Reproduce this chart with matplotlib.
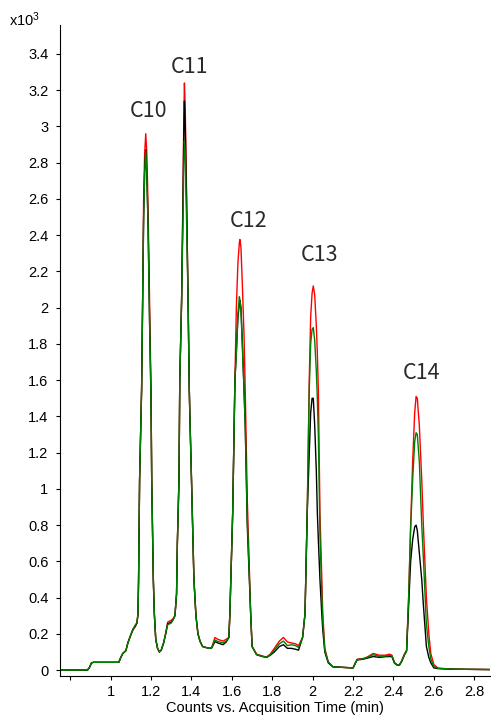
import matplotlib
matplotlib.use("Agg")
import matplotlib.pyplot as plt

plt.rcParams['font.family'] = ['Liberation Sans', 'DejaVu Sans']
plt.rcParams['mathtext.default'] = 'regular'

# Acquisition time (min)
time = [0.746, 0.885, 0.895, 0.905, 0.915, 1.040, 1.050, 1.060, 1.075, 1.085,
        1.096, 1.110, 1.122, 1.130, 1.135, 1.138, 1.143, 1.153, 1.158, 1.163,
        1.168, 1.1735, 1.179, 1.185, 1.192, 1.1995, 1.203, 1.211, 1.216, 1.223,
        1.232, 1.241, 1.250, 1.262, 1.272, 1.282, 1.300, 1.310, 1.318, 1.326,
        1.330, 1.338, 1.342, 1.351, 1.358, 1.362, 1.365, 1.369, 1.376, 1.383,
        1.389, 1.392, 1.400, 1.412, 1.422, 1.432, 1.442, 1.455, 1.470, 1.490,
        1.500, 1.516, 1.530, 1.556, 1.572, 1.585, 1.590, 1.604, 1.615, 1.622,
        1.630, 1.637, 1.640, 1.645, 1.652, 1.660, 1.666, 1.676, 1.693, 1.700,
        1.722, 1.750, 1.772, 1.790, 1.810, 1.835, 1.855, 1.875, 1.895, 1.915,
        1.930, 1.950, 1.962, 1.973, 1.983, 1.990, 1.997, 2.003, 2.010, 2.018,
        2.023, 2.028, 2.036, 2.045, 2.050, 2.060, 2.077, 2.100, 2.200, 2.212,
        2.220, 2.250, 2.270, 2.300, 2.330, 2.360, 2.380, 2.392, 2.405, 2.420,
        2.430, 2.440, 2.455, 2.465, 2.475, 2.485, 2.495, 2.505, 2.512, 2.518,
        2.528, 2.540, 2.548, 2.563, 2.575, 2.585, 2.600, 2.622, 2.700, 2.878]

# Counts (x10^3)
red = [0, 0, 0.015, 0.040, 0.043, 0.043, 0.070, 0.092, 0.107, 0.150,
       0.184, 0.220, 0.240, 0.260, 0.310, 0.500, 1.050, 1.550, 2.040, 2.600,
       2.850, 2.960, 2.850, 2.550, 2.050, 1.550, 1.050, 0.500, 0.310, 0.170,
       0.120, 0.100, 0.110, 0.150, 0.200, 0.265, 0.275, 0.285, 0.300, 0.420,
       0.700, 1.050, 1.600, 2.040, 2.650, 3.050, 3.240, 3.100, 2.600, 2.050,
       1.550, 1.400, 1.050, 0.500, 0.300, 0.200, 0.160, 0.130, 0.125, 0.120,
       0.125, 0.180, 0.170, 0.160, 0.170, 0.180, 0.310, 0.870, 1.600, 2.000,
       2.250, 2.360, 2.376, 2.330, 2.120, 1.850, 1.550, 0.950, 0.310, 0.130,
       0.088, 0.078, 0.072, 0.088, 0.120, 0.160, 0.180, 0.155, 0.150, 0.145,
       0.135, 0.180, 0.310, 0.870, 1.600, 1.950, 2.080, 2.120, 2.070, 1.900,
       1.750, 1.550, 0.870, 0.500, 0.310, 0.120, 0.045, 0.018, 0.012, 0.040,
       0.060, 0.064, 0.072, 0.092, 0.082, 0.082, 0.088, 0.082, 0.042, 0.028,
       0.030, 0.050, 0.090, 0.110, 0.400, 0.800, 1.150, 1.420, 1.510, 1.500,
       1.350, 1.050, 0.800, 0.400, 0.200, 0.090, 0.030, 0.010, 0.005, 0.003]

black = [0, 0, 0.015, 0.040, 0.043, 0.043, 0.070, 0.092, 0.107, 0.150,
         0.184, 0.225, 0.245, 0.260, 0.310, 0.500, 1.050, 1.550, 2.040, 2.500,
         2.750, 2.870, 2.720, 2.450, 1.950, 1.500, 1.050, 0.500, 0.310, 0.170,
         0.120, 0.100, 0.110, 0.150, 0.200, 0.255, 0.265, 0.280, 0.300, 0.420,
         0.700, 1.050, 1.600, 2.040, 2.600, 2.980, 3.140, 3.000, 2.550, 2.050,
         1.550, 1.400, 1.050, 0.500, 0.300, 0.200, 0.160, 0.130, 0.125, 0.120,
         0.122, 0.157, 0.150, 0.140, 0.155, 0.180, 0.310, 0.870, 1.600, 1.750,
         1.950, 2.020, 2.040, 2.000, 1.800, 1.550, 1.350, 0.800, 0.310, 0.130,
         0.085, 0.075, 0.070, 0.082, 0.100, 0.130, 0.140, 0.120, 0.120, 0.115,
         0.110, 0.180, 0.310, 0.870, 1.200, 1.420, 1.500, 1.500, 1.350, 1.100,
         0.870, 0.720, 0.500, 0.310, 0.220, 0.100, 0.040, 0.018, 0.012, 0.040,
         0.056, 0.060, 0.066, 0.075, 0.070, 0.074, 0.075, 0.075, 0.038, 0.026,
         0.028, 0.046, 0.085, 0.105, 0.350, 0.600, 0.720, 0.790, 0.800, 0.770,
         0.650, 0.500, 0.360, 0.130, 0.070, 0.040, 0.012, 0.008, 0.005, 0.003]

green = [0, 0, 0.015, 0.040, 0.043, 0.043, 0.070, 0.092, 0.107, 0.150,
         0.184, 0.225, 0.250, 0.260, 0.310, 0.500, 1.050, 1.550, 2.040, 2.500,
         2.750, 2.860, 2.740, 2.450, 1.950, 1.500, 1.050, 0.500, 0.310, 0.170,
         0.120, 0.100, 0.110, 0.150, 0.200, 0.250, 0.260, 0.280, 0.300, 0.420,
         0.700, 1.050, 1.600, 2.040, 2.500, 2.800, 2.920, 2.850, 2.450, 2.050,
         1.550, 1.400, 1.050, 0.500, 0.300, 0.200, 0.160, 0.130, 0.125, 0.120,
         0.123, 0.166, 0.158, 0.150, 0.160, 0.180, 0.310, 0.870, 1.600, 1.750,
         1.970, 2.060, 2.040, 1.980, 1.780, 1.550, 1.350, 0.850, 0.310, 0.130,
         0.086, 0.076, 0.071, 0.085, 0.110, 0.145, 0.160, 0.135, 0.140, 0.135,
         0.125, 0.180, 0.310, 0.870, 1.550, 1.800, 1.880, 1.890, 1.820, 1.650,
         1.500, 1.300, 0.750, 0.420, 0.270, 0.110, 0.045, 0.018, 0.012, 0.040,
         0.058, 0.062, 0.070, 0.085, 0.076, 0.078, 0.080, 0.080, 0.040, 0.027,
         0.029, 0.048, 0.088, 0.108, 0.400, 0.780, 1.050, 1.260, 1.310, 1.300,
         1.150, 0.800, 0.620, 0.250, 0.130, 0.060, 0.020, 0.010, 0.005, 0.003]

peak_labels = ["C10", "C11", "C12", "C13", "C14"]
label_times = [1.188, 1.390, 1.683, 2.034, 2.538]
label_heights = [3.054, 3.293, 2.446, 2.257, 1.606]

x_ticks = [0.8, 1.0, 1.2, 1.4, 1.6, 1.8, 2.0, 2.2, 2.4, 2.6, 2.8]
x_tick_labels = ["", "1", "1.2", "1.4", "1.6", "1.8", "2", "2.2", "2.4", "2.6", "2.8"]
y_ticks = [0, 0.2, 0.4, 0.6, 0.8, 1.0, 1.2, 1.4, 1.6, 1.8, 2.0, 2.2, 2.4, 2.6,
           2.8, 3.0, 3.2, 3.4]

fig = plt.figure(figsize=(4.91, 7.18), dpi=100)
ax = fig.add_axes([0.1212, 0.0589, 0.8768, 0.9063])

ax.plot(time, red, color="#ff0000", lw=1.0)
ax.plot(time, black, color="#000000", lw=1.0)
ax.plot(time, green, color="#008000", lw=1.0)

for lab, t, h in zip(peak_labels, label_times, label_heights):
    ax.text(t, h, lab, ha="center", va="baseline", fontsize=15.5,
            family=["Noto Sans CJK JP", "DejaVu Sans"], color="#2a2a2a")

ax.set_xlim(0.7465, 2.878)
ax.set_ylim(-0.031, 3.56)
ax.set_xticks(x_ticks)
ax.set_xticklabels(x_tick_labels)
ax.set_yticks(y_ticks)
ax.set_yticklabels(["%g" % v for v in y_ticks])
ax.tick_params(axis="both", direction="out", length=3, width=0.8, labelsize=10.5)
ax.tick_params(axis="y", pad=5)
ax.tick_params(axis="x", pad=4)
for s in ["top", "right"]:
    ax.spines[s].set_visible(False)
for s in ["left", "bottom"]:
    ax.spines[s].set_linewidth(0.8)

ax.set_xlabel("Counts vs. Acquisition Time (min)", fontsize=10.5, labelpad=1)
fig.text(0.018, 0.972, "x10$^3$", fontsize=10.5, ha="left", va="center")

fig.savefig("out.png", dpi=100)
